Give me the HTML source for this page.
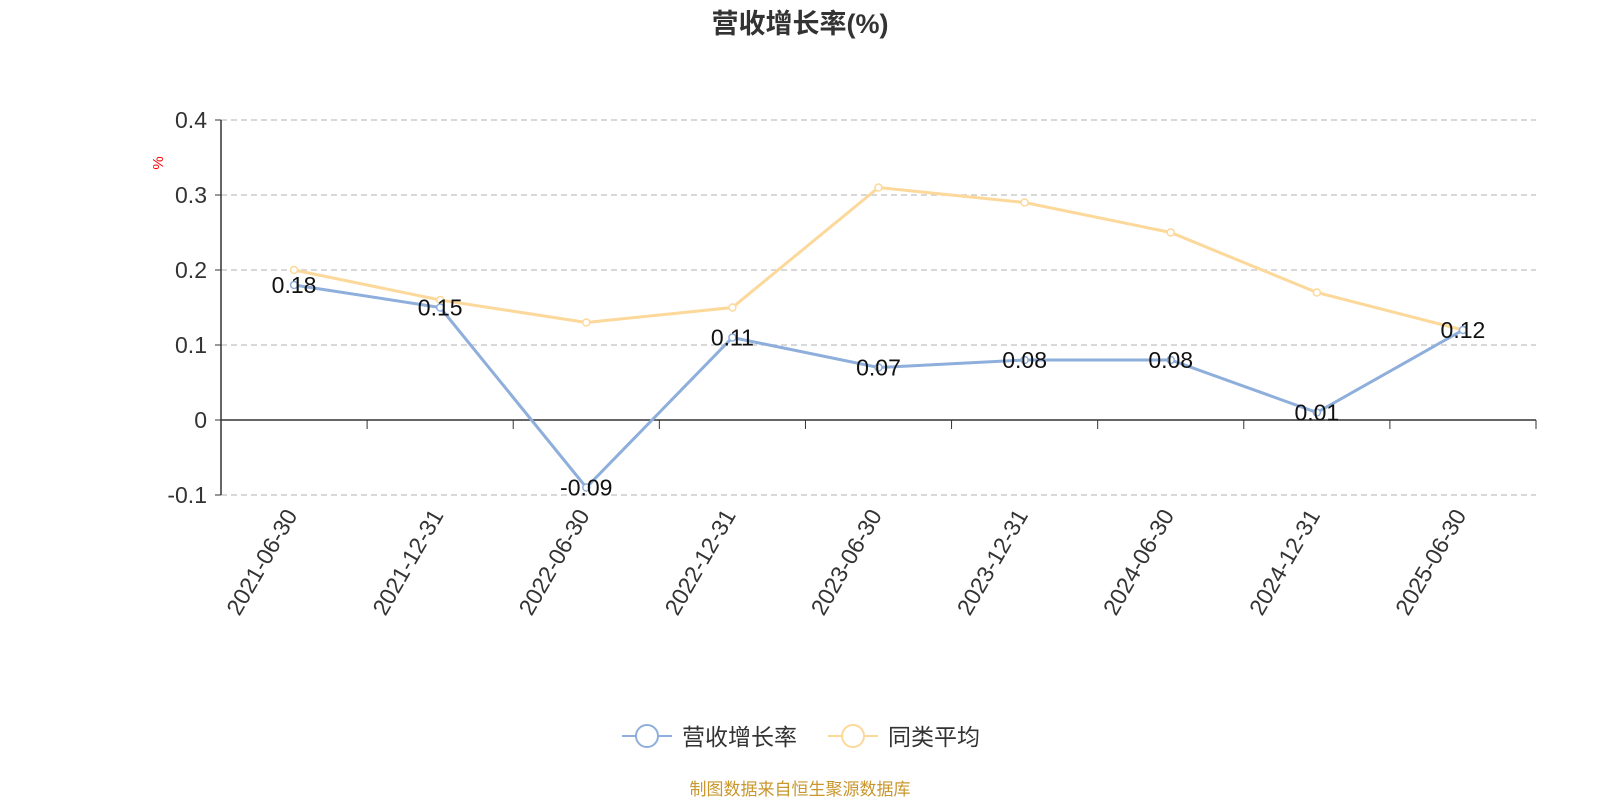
<!DOCTYPE html>
<html><head><meta charset="utf-8"><style>
body{margin:0;background:#fff;font-family:"Liberation Sans","Noto Sans CJK SC",sans-serif}
svg text{font-family:"Liberation Sans","Noto Sans CJK SC",sans-serif}
</style></head><body>
<svg id="c" width="1600" height="800" xmlns="http://www.w3.org/2000/svg">
<text x="800" y="33" text-anchor="middle" font-size="27" font-weight="bold" fill="#333">营收增长率(%)</text>
<text x="163" y="163" font-size="15" fill="red" transform="rotate(-90 163 163)" text-anchor="middle">%</text>
<g id="grid"></g><g id="axes"></g><g id="series"></g>
<g>
<g><line x1="622" y1="736" x2="672" y2="736" stroke="#8eaedb" stroke-width="2"/><circle cx="647" cy="736" r="11" fill="#fff" stroke="#8eaedb" stroke-width="2"/><text x="682" y="745" font-size="23" fill="#333">营收增长率</text></g>
<g><line x1="828" y1="736" x2="878" y2="736" stroke="#fcd89a" stroke-width="2"/><circle cx="853" cy="736" r="11" fill="#fff" stroke="#fcd89a" stroke-width="2"/><text x="888" y="745" font-size="23" fill="#333">同类平均</text></g>
</g>
<text x="800" y="795" text-anchor="middle" font-size="17" fill="#c9972d">制图数据来自恒生聚源数据库</text>
</svg>
<script>
const categories=["2021-06-30","2021-12-31","2022-06-30","2022-12-31","2023-06-30","2023-12-31","2024-06-30","2024-12-31","2025-06-30"];
const revenueGrowth=[0.18,0.15,-0.09,0.11,0.07,0.08,0.08,0.01,0.12];
const peerAverage=[0.20,0.16,0.13,0.15,0.31,0.29,0.25,0.17,0.12];
const yTicks=[-0.1,0,0.1,0.2,0.3,0.4];
const NS="http://www.w3.org/2000/svg";
const x0=221,x1=1536,bw=(x1-x0)/categories.length;
function X(i){return x0+bw*(i+0.5);}
function Y(v){return 420-v*750;}
function mk(p,t,a){const e=document.createElementNS(NS,t);for(const k in a)e.setAttribute(k,a[k]);p.appendChild(e);return e;}
const grid=document.getElementById('grid'),axes=document.getElementById('axes'),ser=document.getElementById('series');
yTicks.forEach(v=>{
 if(v!==0){const l=mk(grid,'line',{x1:x0,x2:x1,y1:Y(v),y2:Y(v),stroke:'#ccc','stroke-dasharray':'6,4','stroke-width':1.5});
 
 }
 mk(axes,'line',{x1:x0-6,x2:x0,y1:Y(v),y2:Y(v),stroke:'#333'});
 const t=mk(axes,'text',{x:x0-14,y:Y(v)+8,'text-anchor':'end','font-size':23,fill:'#333'});t.textContent=v;
 
 
});
mk(axes,'line',{x1:x0,x2:x0,y1:Y(0.4),y2:Y(-0.1),stroke:'#333','stroke-width':1.5});
mk(axes,'line',{x1:x0,x2:x1,y1:Y(0),y2:Y(0),stroke:'#333','stroke-width':1.5});
for(let i=0;i<=categories.length;i++)mk(axes,'line',{x1:x0+bw*i,x2:x0+bw*i,y1:Y(0),y2:Y(0)+9,stroke:'#333'});
categories.forEach((c,i)=>{const x=X(i)+4,y=515;
 const t=mk(axes,'text',{x:x,y:y,'text-anchor':'end','font-size':23,fill:'#333',transform:`rotate(-60 ${x} ${y})`});t.textContent=c;
 
 });
function line(arr,col,name,labels){
 const p=mk(ser,'polyline',{points:arr.map((v,i)=>X(i)+','+Y(v)).join(' '),fill:'none',stroke:col,'stroke-width':3});
 
 
 arr.forEach((v,i)=>{const c=mk(ser,'circle',{cx:X(i),cy:Y(v),r:3.5,fill:'#fff',stroke:col,'stroke-width':1.5});
  
  
  if(labels){const t=mk(ser,'text',{x:X(i),y:Y(v)+8,'text-anchor':'middle','font-size':23,fill:'#111'});t.textContent=v;
  
  }});
}
line(peerAverage,'#fcd89a','peer-average',false);
line(revenueGrowth,'#8eaedb','revenue-growth',true);
</script>
</body></html>
